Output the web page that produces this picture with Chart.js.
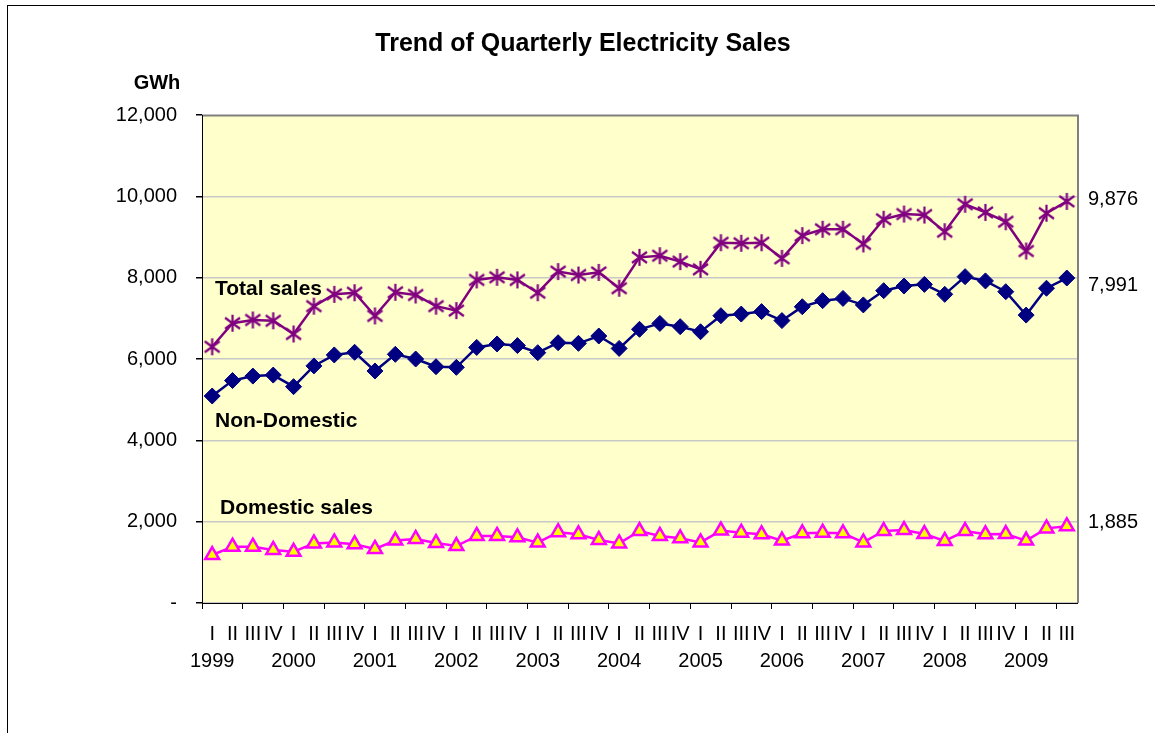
<!DOCTYPE html>
<html>
<head>
<meta charset="utf-8">
<script src="https://cdn.jsdelivr.net/npm/chart.js@4"></script>
<style>
html,body{margin:0;padding:0;background:#fff;overflow:hidden;}
#wrap{position:relative;width:1155px;height:733px;}
</style>
</head>
<body>
<div id="wrap"><canvas id="c" width="1155" height="733"></canvas></div>
<script>
// ---- data ----
const years = ['1999','2000','2001','2002','2003','2004','2005','2006','2007','2008','2009'];
const quarterNames = ['I','II','III','IV'];
const totalSales = [6300, 6880, 6960, 6940, 6615, 7300, 7590, 7630, 7060, 7640, 7575, 7300, 7190, 7945, 8010, 7945, 7630, 8150, 8065, 8130, 7740, 8500, 8540, 8395, 8205, 8860, 8845, 8860, 8475, 9035, 9190, 9190, 8830, 9435, 9565, 9540, 9130, 9805, 9605, 9375, 8655, 9585, 9876];
const nonDomestic = [5090, 5470, 5580, 5605, 5320, 5830, 6100, 6165, 5705, 6115, 6000, 5810, 5795, 6285, 6370, 6330, 6155, 6400, 6385, 6565, 6260, 6730, 6875, 6795, 6670, 7065, 7105, 7165, 6945, 7285, 7435, 7490, 7330, 7680, 7795, 7835, 7590, 8025, 7920, 7655, 7080, 7740, 7991];
const domesticSales = [1180, 1385, 1385, 1305, 1260, 1465, 1490, 1445, 1330, 1535, 1575, 1475, 1400, 1650, 1650, 1615, 1485, 1740, 1690, 1550, 1465, 1770, 1650, 1590, 1490, 1780, 1730, 1690, 1535, 1715, 1730, 1715, 1490, 1770, 1795, 1695, 1525, 1770, 1690, 1695, 1535, 1835, 1885];
const yTicks = [0, 2000, 4000, 6000, 8000, 10000, 12000];
const seriesNames = ['Total sales', 'Non-Domestic', 'Domestic sales'];

const labels = totalSales.map((v, i) => {
  const q = quarterNames[i % 4];
  return (i % 4 === 0) ? [q, years[Math.floor(i / 4)]] : q;
});

const FONT = "'Liberation Sans', Arial, sans-serif";

// star marker (X plus vertical bar)
function makeStar(color) {
  const s = document.createElement('canvas');
  s.width = 19; s.height = 19;
  const g = s.getContext('2d');
  g.strokeStyle = color; g.lineWidth = 2.2; g.lineCap = 'butt';
  g.beginPath();
  g.moveTo(9.5, 1); g.lineTo(9.5, 18);
  g.moveTo(2, 4); g.lineTo(17, 15);
  g.moveTo(2, 15); g.lineTo(17, 4);
  g.stroke();
  return s;
}
const starImg = makeStar('#800080');

const decor = {
  id: 'decor',
  beforeDraw(chart) {
    const ctx = chart.ctx, a = chart.chartArea;
    ctx.save();
    ctx.fillStyle = '#fff';
    ctx.fillRect(0, 0, chart.width, chart.height);
    ctx.strokeStyle = '#000'; ctx.lineWidth = 1;
    ctx.strokeRect(7.5, 5.5, 1300, 900);
    ctx.fillStyle = '#FFFFCC';
    ctx.fillRect(a.left, a.top, a.right - a.left, a.bottom - a.top);
    ctx.strokeStyle = '#808080'; ctx.lineWidth = 2;
    ctx.beginPath();
    ctx.moveTo(a.left, a.top + 0.5); ctx.lineTo(a.right + 1, a.top + 0.5); ctx.lineTo(a.right + 1, a.bottom);
    ctx.stroke();
    ctx.restore();
  },
  afterDraw(chart) {
    const ctx = chart.ctx, a = chart.chartArea;
    ctx.save();
    ctx.fillStyle = '#000';
    ctx.textBaseline = 'alphabetic';
    ctx.font = 'bold 25px ' + FONT;
    ctx.textAlign = 'center';
    ctx.fillText('Trend of Quarterly Electricity Sales', 583, 51);
    ctx.font = 'bold 20px ' + FONT;
    ctx.fillText('GWh', 157, 89);
    ctx.font = 'bold 21px ' + FONT;
    ctx.textAlign = 'left';
    ctx.fillText(seriesNames[0], 215, 295);
    ctx.fillText(seriesNames[1], 215, 427);
    ctx.fillText(seriesNames[2], 220, 514);
    // end value labels
    ctx.font = '20px ' + FONT;
    ctx.textBaseline = 'middle';
    const offs = [-2, 7, -4];
    chart.data.datasets.forEach((ds, k) => {
      const meta = chart.getDatasetMeta(k);
      const last = meta.data[meta.data.length - 1];
      const v = ds.data[ds.data.length - 1];
      ctx.fillText(v.toLocaleString('en-US'), a.right + 11, last.y + offs[k]);
    });
    ctx.restore();
  }
};

new Chart(document.getElementById('c'), {
  type: 'line',
  data: {
    labels: labels,
    datasets: [
      {
        label: seriesNames[0], data: totalSales,
        borderColor: '#800080', borderWidth: 2.5,
        pointStyle: starImg, pointRadius: 8, tension: 0
      },
      {
        label: seriesNames[1], data: nonDomestic,
        borderColor: '#000080', borderWidth: 2.5,
        pointStyle: 'rectRot', pointRadius: 8, pointBorderWidth: 1,
        pointBackgroundColor: '#000080', pointBorderColor: '#000080', tension: 0
      },
      {
        label: seriesNames[2], data: domesticSales,
        borderColor: '#FF00FF', borderWidth: 2.5,
        pointStyle: 'triangle', pointRadius: 8, pointBorderWidth: 2.5,
        pointBackgroundColor: '#FFFF00', pointBorderColor: '#FF00FF', tension: 0
      }
    ]
  },
  options: {
    responsive: false,
    animation: false,
    events: [],
    layout: { padding: { left: 0, right: 78, top: 115, bottom: 0 } },
    plugins: { legend: { display: false }, title: { display: false }, tooltip: { enabled: false } },
    scales: {
      x: {
        offset: true,
        grid: {
          offset: true, drawOnChartArea: false, drawTicks: true, tickLength: 6,
          tickColor: (c) => (c.index % 2 === 0 ? '#000' : 'rgba(0,0,0,0)')
        },
        border: { display: true, color: '#000', width: 1 },
        ticks: {
          autoSkip: false, maxRotation: 0, minRotation: 0, padding: 12,
          color: '#000', font: { family: FONT, size: 20, lineHeight: 1.35 }
        },
        afterFit: (s) => { s.height = 130; }
      },
      y: {
        min: 0, max: 12000,
        afterBuildTicks: (s) => { s.ticks = yTicks.map(v => ({ value: v })); },
        grid: {
          color: (c) => (c.tick && c.tick.value === 12000 ? 'rgba(0,0,0,0)' : '#C8C8C8'),
          lineWidth: 1.5,
          tickColor: '#000', tickLength: 6, drawTicks: true
        },
        border: { display: true, color: '#000', width: 1 },
        ticks: {
          padding: 19, color: '#000', font: { family: FONT, size: 20 },
          callback: (v) => (v === 0 ? '-' : v.toLocaleString('en-US'))
        },
        afterFit: (s) => { s.width = 202; }
      }
    }
  },
  plugins: [decor]
});
</script>
</body>
</html>
